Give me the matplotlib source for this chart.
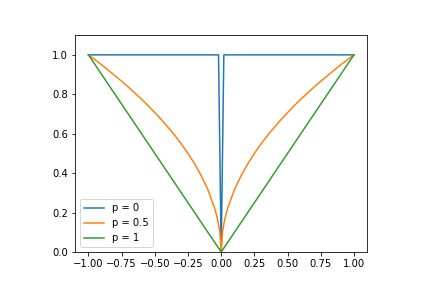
import numpy as np
import matplotlib
matplotlib.use("Agg")
import matplotlib.pyplot as plt

# values
x_p0 = [-1.0, -0.02, 0.0, 0.02, 1.0]
y_p0 = [1.0, 1.0, 0.0, 1.0, 1.0]

# p = 0.5 curve, right half (the left half mirrors it)
x_half_r = [0.0, 0.01, 0.02, 0.03, 0.04, 0.05, 0.1, 0.15, 0.2, 0.25, 0.3, 0.35, 0.4, 0.45,
            0.5, 0.55, 0.6, 0.65, 0.7, 0.75, 0.8, 0.85, 0.9, 0.95, 1.0]
y_half_r = [0.0, 0.1, 0.141, 0.173, 0.2, 0.224, 0.316, 0.387, 0.447, 0.5, 0.548, 0.592, 0.632, 0.671,
            0.707, 0.742, 0.775, 0.806, 0.837, 0.866, 0.894, 0.922, 0.949, 0.975, 1.0]

x_p1 = [-1.0, 0.0, 1.0]
y_p1 = [1.0, 0.0, 1.0]

x_half = [-v for v in x_half_r[:0:-1]] + x_half_r
y_half = y_half_r[:0:-1] + y_half_r

fig = plt.figure(figsize=(6, 4), dpi=72)
fig.subplots_adjust(left=0.174, right=0.85, bottom=0.125, top=0.878)
plt.plot(x_p0, y_p0, label='p = 0')
plt.plot(x_half, y_half, label='p = 0.5')
plt.plot(x_p1, y_p1, label='p = 1')
plt.ylim(0, 1.1)
plt.legend(loc="lower left")
plt.savefig("out.png", dpi=72)
